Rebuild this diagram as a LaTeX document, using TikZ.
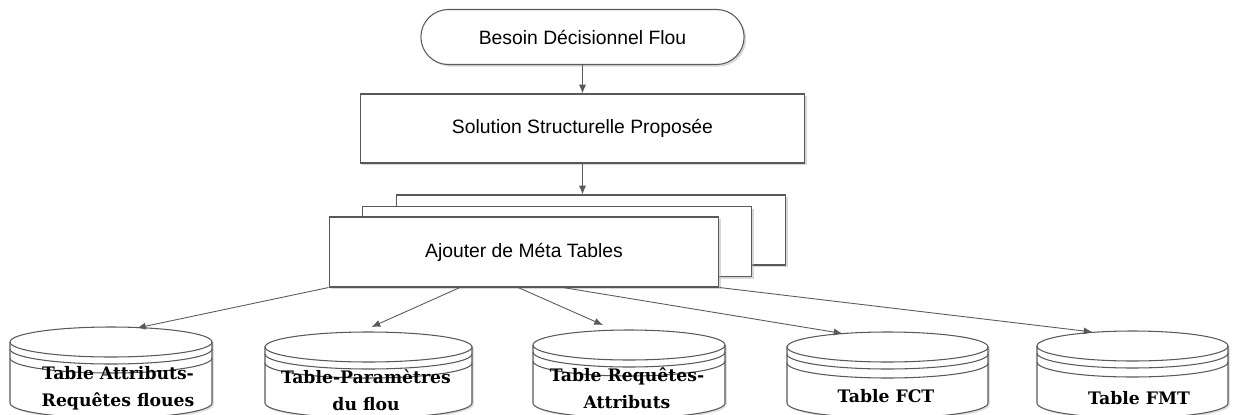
\documentclass[tikz,border=0pt]{standalone}
\usepackage{fontspec}
\usetikzlibrary{shapes.misc, arrows.meta, positioning, calc, shadows}
\newfontfamily\boxfont{Liberation Sans}
\newfontfamily\tabfont{DejaVu Serif}
\colorlet{lineGray}{black!65}
\tikzset{
  flowblock/.style={rectangle, draw=lineGray, fill=white, line width=0.6pt,
                    align=center, font=\boxfont\fontsize{11}{13}\selectfont,
                    drop shadow={shadow xshift=1.2pt, shadow yshift=-1.2pt, fill=black!30}},
  flowterm/.style={flowblock, rounded rectangle, minimum width=6.7cm, minimum height=1.1cm},
  flowproc/.style={flowblock, minimum width=8.9cm, minimum height=1.38cm},
  flowdoc/.style={flowblock, minimum width=7.8cm, minimum height=1.4cm},
  flowarrow/.style={-{Latex[length=5pt, width=4pt]}, lineGray, line width=0.5pt},
  dbline/.style={draw=lineGray, line width=0.6pt},
  dbtext/.style={align=center, font=\tabfont\bfseries\fontsize{9.8}{15.5}\selectfont},
}
% name, centre x, top y, half width
\newcommand{\dbcyl}[4]{%
  \path[dbline, fill=white, drop shadow={shadow xshift=1pt, shadow yshift=-1pt, fill=black!25}]
    ({#2-#4},{#3-15}) -- ({#2-#4},11)
    arc[start angle=180, end angle=360, x radius=#4, y radius=15]
    -- ({#2+#4},{#3-15})
    arc[start angle=0, end angle=180, x radius=#4, y radius=15] -- cycle;
  \foreach \dy in {15,22,31}
    \draw[dbline] ({#2-#4},{#3-\dy}) arc[start angle=180, end angle=360, x radius=#4, y radius=15];
  \coordinate (#1) at (#2,#3);
}

\begin{document}
\begin{tikzpicture}[x=0.02cm, y=0.02cm]
  \useasboundingbox (0,0) rectangle (1237,414);
  \clip (0,0) rectangle (1237,414);

  % Besoin et solution
  \node[flowterm] (besoin) at (582.5,377) {Besoin Décisionnel Flou};
  \node[flowproc] (solution) at (582.5,285.5) {Solution Structurelle Proposée};
  \draw[flowarrow] (besoin) -- (solution);

  % Meta tables
  \node[flowdoc] (meta3) at (591,184) {};
  \node[flowdoc] (meta2) at (557,172.5) {};
  \node[flowdoc] (meta) at (524,162) {Ajouter de Méta Tables};
  \draw[flowarrow] (solution) -- (solution.south |- meta3.north);

  % Tables
  \dbcyl{t1}{111}{87}{101}
  \dbcyl{t2}{368.5}{82}{103.5}
  \dbcyl{t3}{629}{84}{96}
  \dbcyl{t4}{887.5}{82}{100.5}
  \dbcyl{t5}{1132.5}{83}{95.5}
  \node[dbtext] (t1txt) at (118,26) {Table Attributs-\\Requêtes floues};
  \node[dbtext] (t2txt) at (366,24) {Table-Paramètres\\du flou};
  \node[dbtext] (t3txt) at (627,26) {Table Requêtes-\\Attributs};
  \node[dbtext] (t4txt) at (886,18) {Table FCT};
  \node[dbtext] (t5txt) at (1139,16) {Table FMT};

  \draw[flowarrow] (meta.south west) -- ($(t1)+(26,-1)$);
  \draw[flowarrow] ($(meta.south west)!0.336!(meta.south east)$) -- ($(t2)+(3,5)$);
  \draw[flowarrow] ($(meta.south west)!0.485!(meta.south east)$) -- ($(t3)+(-26,5)$);
  \draw[flowarrow] ($(meta.south west)!0.6!(meta.south east)$) -- ($(t4)+(-45,-1.5)$);
  \draw[flowarrow] (meta.south east) -- ($(t5)+(-40,-1)$);
\end{tikzpicture}
\end{document}
